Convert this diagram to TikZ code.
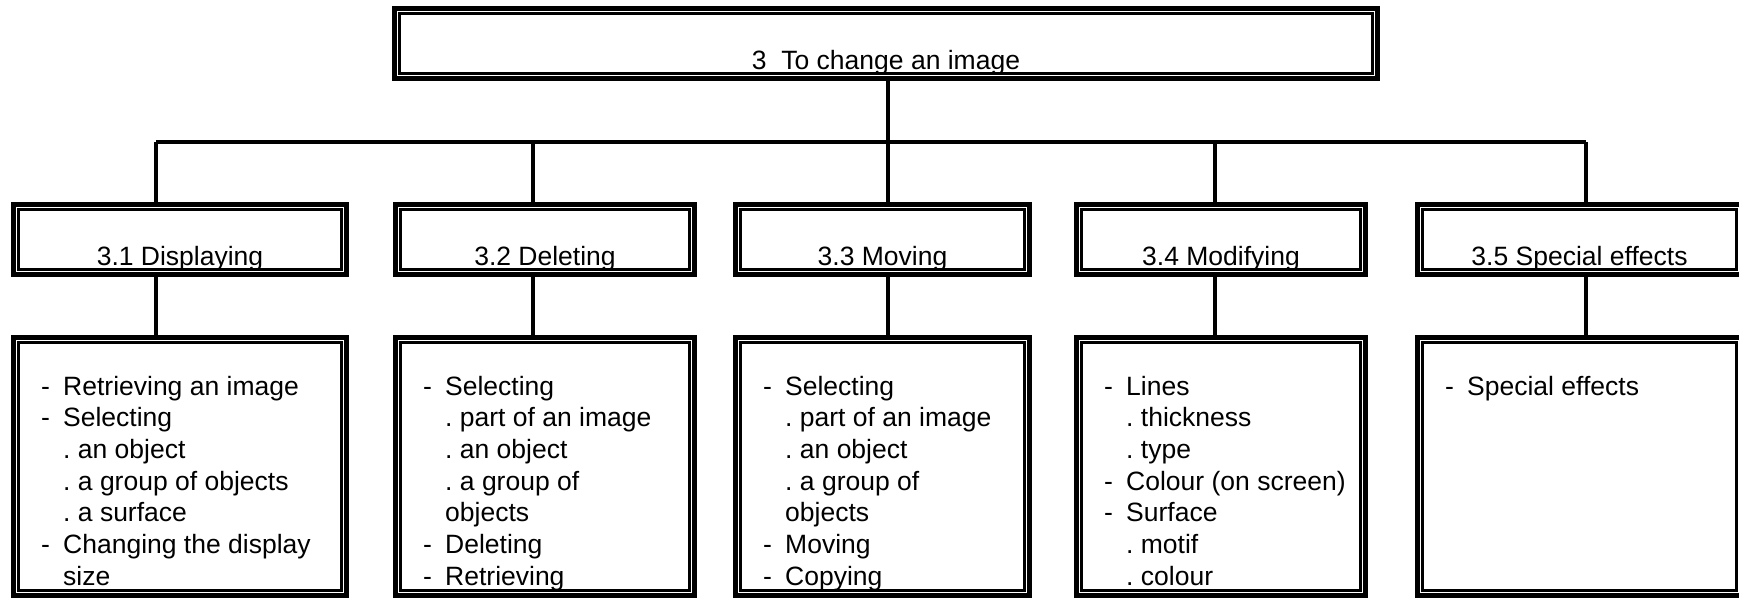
\documentclass[tikz,border=0pt]{standalone}
\usepackage{fontspec}
\setmainfont{Liberation Sans}
\usetikzlibrary{calc}
\newcommand\dsh{\makebox[22pt][l]{-}}
\newcommand\ind{\hspace*{22pt}}
\begin{document}
\begin{tikzpicture}[x=1pt,y=-1pt,
  font=\fontsize{26.5}{31.7}\selectfont,
  dbl/.style={draw, line width=5pt, inner sep=0pt, outer sep=0pt,
    path picture={\draw[line width=2.7pt]
      ([xshift=5.15pt,yshift=-5.15pt]path picture bounding box.north west) rectangle
      ([xshift=-5.15pt,yshift=5.15pt]path picture bounding box.south east);}},
  conn/.style={line width=3.3pt},
  lst/.style={anchor=base west, inner sep=0pt},
  hd/.style={anchor=base, inner sep=0pt}]
\useasboundingbox (0,0) rectangle (1739,597);
\clip (0,0) rectangle (1739,597);
% top box
\node[dbl, minimum width=983pt, minimum height=70pt] (top) at (886,43.5) {};
% level 2
\node[dbl, minimum width=333pt, minimum height=70pt] (b31) at (180,239.5) {};
\node[dbl, minimum width=299pt, minimum height=70pt] (b32) at (545,239.5) {};
\node[dbl, minimum width=294pt, minimum height=70pt] (b33) at (882.5,239.5) {};
\node[dbl, minimum width=289pt, minimum height=70pt] (b34) at (1221,239.5) {};
\node[dbl, minimum width=324pt, minimum height=70pt] (b35) at (1579.5,239.5) {};
% level 3
\node[dbl, minimum width=333pt, minimum height=258pt] (l31) at (180,466.5) {};
\node[dbl, minimum width=299pt, minimum height=258pt] (l32) at (545,466.5) {};
\node[dbl, minimum width=294pt, minimum height=258pt] (l33) at (882.5,466.5) {};
\node[dbl, minimum width=289pt, minimum height=258pt] (l34) at (1221,466.5) {};
\node[dbl, minimum width=324pt, minimum height=258pt] (l35) at (1579.5,466.5) {};
% junctions
\coordinate (j1) at (156,142);
\coordinate (j2) at (533,142);
\coordinate (j3) at (888,142);
\coordinate (j4) at (1215,142);
\coordinate (j5) at (1586,142);
\coordinate (yt) at (0,69);
\coordinate (y2) at (0,265);
% connectors
\draw[conn] (top.south -| j3) -- (j3);
\draw[conn] (j1) -- (j5);
\foreach \j/\b in {j1/31,j2/32,j3/33,j4/34,j5/35}{
  \draw[conn] (\j) -- (\j |- b\b.north);
  \draw[conn] (b\b.south -| \j) -- (l\b.north -| \j);
}
% headings
\node[hd] (ttop) at (top |- yt) {3~~To change an image};
\node[hd] (t31) at (b31 |- y2) {3.1 Displaying};
\node[hd] (t32) at (b32 |- y2) {3.2 Deleting};
\node[hd] (t33) at (b33 |- y2) {3.3 Moving};
\node[hd] (t34) at (b34 |- y2) {3.4 Modifying};
\node[hd] (t35) at (b35 |- y2) {3.5 Special effects};
% lists
\node[lst] (s31) at ($(l31.north west)+(27.5,57.5)$) {\parbox[t]{320pt}{\raggedright
  \dsh Retrieving an image\\
  \dsh Selecting\\
  \ind.\ an object\\
  \ind.\ a group of objects\\
  \ind.\ a surface\\
  \dsh Changing the display\\
  \ind size}};
\node[lst] (s32) at ($(l32.north west)+(27.5,57.5)$) {\parbox[t]{320pt}{\raggedright
  \dsh Selecting\\
  \ind.\ part of an image\\
  \ind.\ an object\\
  \ind.\ a group of\\
  \ind objects\\
  \dsh Deleting\\
  \dsh Retrieving}};
\node[lst] (s33) at ($(l33.north west)+(27.5,57.5)$) {\parbox[t]{320pt}{\raggedright
  \dsh Selecting\\
  \ind.\ part of an image\\
  \ind.\ an object\\
  \ind.\ a group of\\
  \ind objects\\
  \dsh Moving\\
  \dsh Copying}};
\node[lst] (s34) at ($(l34.north west)+(27.5,57.5)$) {\parbox[t]{320pt}{\raggedright
  \dsh Lines\\
  \ind.\ thickness\\
  \ind.\ type\\
  \dsh Colour (on screen)\\
  \dsh Surface\\
  \ind.\ motif\\
  \ind.\ colour}};
\node[lst] (s35) at ($(l35.north west)+(27.5,57.5)$) {\parbox[t]{320pt}{\raggedright
  \dsh Special effects}};
\end{tikzpicture}
\end{document}
